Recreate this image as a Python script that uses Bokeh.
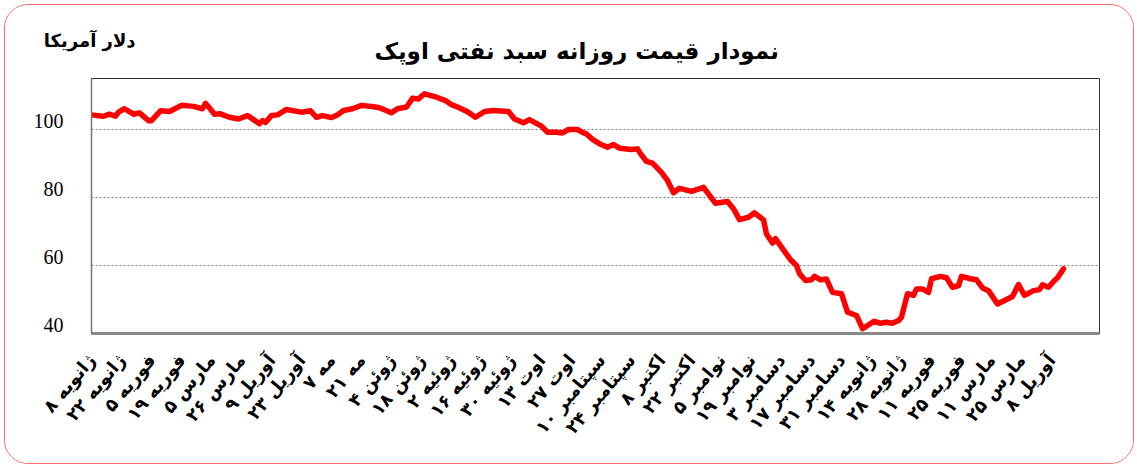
import math
from bokeh.plotting import figure
from bokeh.models import Range1d, FixedTicker, Label, LinearAxis, Grid
from bokeh.embed import file_html
from bokeh.resources import INLINE

# trading-day index (10 trading days between labelled dates) and OPEC basket price (USD)
day_index = [0, 4, 6, 8, 9, 11, 14, 16, 19, 20, 23, 26, 30, 34, 37, 38, 40, 41, 43, 46,
             49, 52, 54, 56, 57, 58, 60, 62, 65, 68, 70, 73, 75, 77, 80, 82, 84, 87, 90, 94,
             96, 99, 100, 102, 105, 107, 109, 110, 111, 115, 118, 120, 122, 125, 128, 131,
             134, 139, 141, 144, 146, 150, 152, 155, 157, 159, 162, 164, 165, 167, 170, 172,
             174, 176, 180, 182, 183, 185, 187, 190, 192, 194, 196, 200, 204, 205, 208, 212,
             214, 216, 219, 221, 224, 225, 227, 228, 230, 233, 235, 236, 238, 240, 241, 243,
             245, 247, 250, 252, 255, 257, 260, 261, 263, 265, 267, 269, 270, 272, 274, 275,
             277, 279, 280, 283, 285, 287, 289, 290, 293, 295, 297, 299, 302, 305, 307, 309,
             311, 314, 316, 317, 319, 321, 322, 324]
price = [104.3, 103.9, 104.5, 103.9, 105.1, 106.1, 104.5, 104.9, 102.6, 102.6, 105.5, 105.3,
         107.1, 106.8, 106.1, 107.7, 105.6, 104.5, 104.6, 103.6, 103.1, 104.1, 102.9, 101.7,
         102.6, 102.1, 104.1, 104.3, 105.9, 105.4, 105.1, 105.5, 103.6, 104.1, 103.5, 104.3,
         105.6, 106.1, 107.1, 106.7, 106.4, 105.3, 104.9, 106.1, 106.6, 109.2, 109.0, 109.8,
         110.5, 109.5, 108.5, 107.3, 106.6, 105.4, 103.6, 105.3, 105.6, 105.3, 103.1, 102.0,
         102.9, 101.0, 99.2, 99.2, 99.0, 100.0, 100.0, 99.0, 98.7, 97.1, 95.5, 94.8, 95.6,
         94.5, 94.1, 94.3, 92.9, 90.6, 90.1, 87.4, 85.0, 81.4, 82.7, 81.8, 83.0, 81.8, 78.3,
         78.8, 76.7, 73.5, 74.2, 75.5, 73.4, 69.3, 66.6, 67.9, 65.4, 61.7, 60.0, 57.6, 55.6,
         55.8, 56.8, 55.8, 56.0, 52.1, 51.7, 46.3, 45.3, 41.4, 43.1, 43.6, 43.0, 43.3, 43.0,
         43.8, 44.8, 51.7, 51.2, 53.1, 53.1, 52.1, 56.1, 56.8, 56.4, 53.6, 54.1, 56.8, 56.1,
         55.8, 53.4, 52.6, 48.7, 50.0, 50.9, 54.4, 51.2, 52.6, 52.9, 54.3, 53.6, 55.6, 56.4,
         59.0]

tick_index = list(range(0, 330, 10))
tick_labels = ["ژانویه ۸", "ژانویه ۲۲", "فوریه ۵", "فوریه ۱۹", "مارس ۵", "مارس ۲۶",
               "آوریل ۹", "آوریل ۲۳", "مه ۷", "مه ۲۱", "ژوئن ۴", "ژوئن ۱۸", "ژوئیه ۲",
               "ژوئیه ۱۶", "ژوئیه ۳۰", "اوت ۱۳", "اوت ۲۷", "سپتامبر ۱۰", "سپتامبر ۲۴",
               "اکتبر ۸", "اکتبر ۲۲", "نوامبر ۵", "نوامبر ۱۹", "دسامبر ۳", "دسامبر ۱۷",
               "دسامبر ۳۱", "ژانویه ۱۴", "ژانویه ۲۸", "فوریه ۱۱", "فوریه ۲۵", "مارس ۱۱",
               "مارس ۲۵", "آوریل ۸"]
y_ticks = [40, 60, 80, 100]
grid_values = [60, 80, 100]

title_text = "نمودار قیمت روزانه سبد نفتی اوپک"
unit_text = "دلار آمریکا"

Y0, Y1 = 40, 115
FRAME_H = 255
# tick labels sit slightly above their gridline (as in the original chart)
label_lift = 9 * (Y1 - Y0) / FRAME_H

p = figure(width=1130, height=460, output_backend="svg", toolbar_location=None,
           x_range=Range1d(0, 336), y_range=Range1d(Y0, Y1), y_axis_location=None,
           min_border_left=86, min_border_right=36, min_border_top=73,
           min_border_bottom=132)
p.extra_y_ranges = {"lab": Range1d(Y0 - label_lift, Y1 - label_lift)}
p.styles = {"border": "1px solid #ff6a6a", "border-radius": "24px", "overflow": "hidden",
            "margin": "4px 0 0 4px"}
p.background_fill_color = "white"
p.border_fill_color = "white"
p.outline_line_color = "#333333"
p.outline_line_width = 1

# hide default grids before adding the dotted value grid
p.xgrid.visible = False
p.ygrid.visible = False

p.line(day_index, price, line_color="#ff0000", line_width=5.5, line_join="round",
       line_cap="round")

# x axis
xa = p.xaxis[0]
xa.ticker = FixedTicker(ticks=tick_index)
xa.major_label_overrides = {t: l for t, l in zip(tick_index, tick_labels)}
xa.major_label_orientation = math.radians(50)
xa.major_label_text_font = "DejaVu Sans"
xa.major_label_text_font_style = "bold"
xa.major_label_text_font_size = "18px"
xa.major_label_text_color = "black"
xa.major_label_standoff = 23
xa.major_tick_in = 0
xa.major_tick_out = 0
xa.major_tick_line_color = None
xa.minor_tick_line_color = None
xa.axis_line_color = "#888888"
xa.axis_line_width = 3

# y axis
ya = LinearAxis(y_range_name="lab", ticker=FixedTicker(ticks=y_ticks))
ya.major_label_text_font = "Liberation Serif"
ya.major_label_text_font_size = "20px"
ya.major_label_text_color = "black"
ya.major_label_standoff = 28
ya.major_tick_in = 0
ya.major_tick_out = 0
ya.major_tick_line_color = None
ya.minor_tick_line_color = None
ya.axis_line_color = "#777777"
ya.axis_line_width = 1.5
p.add_layout(ya, "left")

p.add_layout(Grid(dimension=1, ticker=FixedTicker(ticks=grid_values),
                  grid_line_color="#808080", grid_line_dash="2 2", grid_line_width=1))

p.add_layout(Label(x=161.7, y=123.2, text=title_text, text_align="center",
                   text_baseline="middle", text_font="DejaVu Sans",
                   text_font_style="bold", text_font_size="23px", text_color="black"),
             "above")
p.add_layout(Label(x=14.7, y=126.2, text=unit_text, text_align="right",
                   text_baseline="middle", text_font="DejaVu Sans",
                   text_font_style="bold", text_font_size="18px", text_color="black"),
             "above")

open("out.html", "w").write(file_html(p, INLINE))
